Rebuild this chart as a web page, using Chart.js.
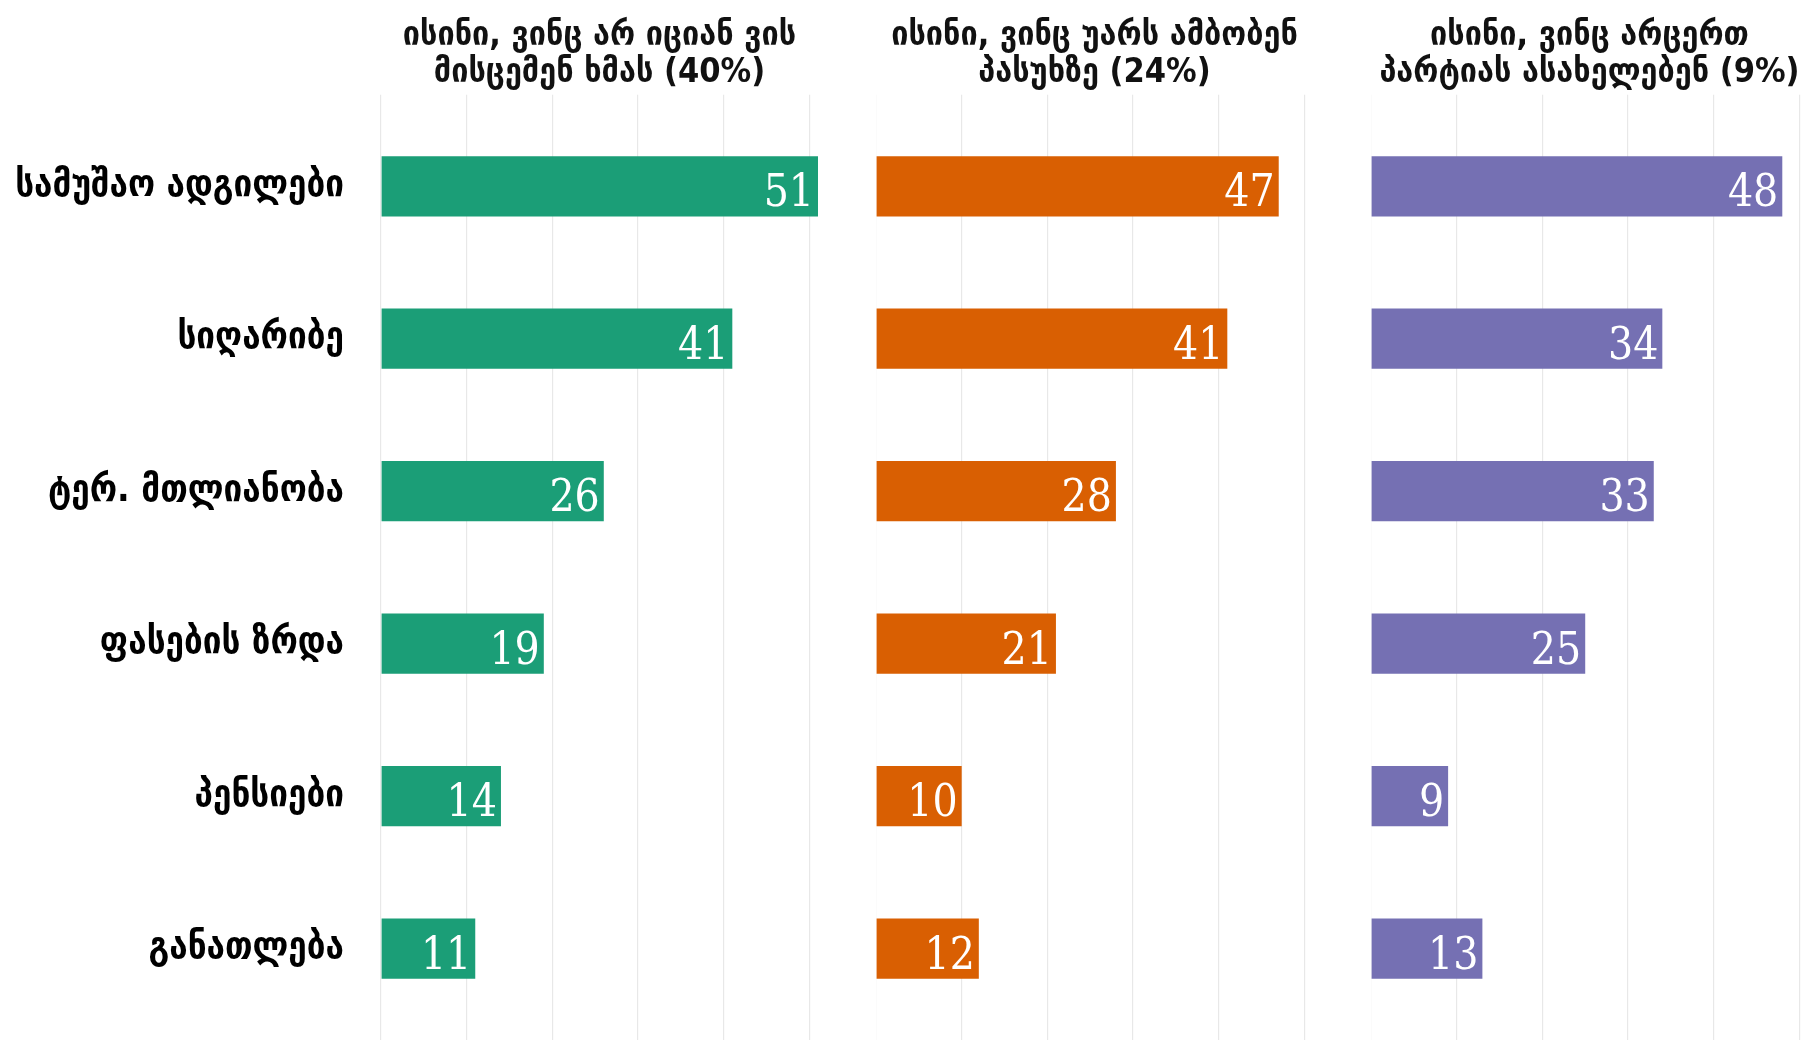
<!DOCTYPE html>
<html>
<head>
<meta charset="utf-8">
<script src="https://cdn.jsdelivr.net/npm/chart.js@4.4.1/dist/chart.umd.min.js"></script>
<style>
  html, body { margin: 0; padding: 0; background: #ffffff; }
  #wrap { position: relative; width: 1808px; height: 1040px; overflow: hidden; }
  canvas { position: absolute; top: 0; }
</style>
</head>
<body>
<div id="wrap">
  <canvas id="c1" width="818" height="1040" style="left:0px"></canvas>
  <canvas id="c2" width="437" height="1040" style="left:876px"></canvas>
  <canvas id="c3" width="437" height="1040" style="left:1371px"></canvas>
</div>
<script>
// Most important issues, by voter group (%)
const categories = ['სამუშაო ადგილები', 'სიღარიბე', 'ტერ. მთლიანობა', 'ფასების ზრდა', 'პენსიები', 'განათლება'];

const undecidedValues = [51, 41, 26, 19, 14, 11];
const refusedValues   = [47, 41, 28, 21, 10, 12];
const noPartyValues   = [48, 34, 33, 25, 9, 13];

const undecidedTitle = ['ისინი, ვინც არ იციან ვის', 'მისცემენ ხმას (40%)'];
const refusedTitle   = ['ისინი, ვინც უარს ამბობენ', 'პასუხზე (24%)'];
const noPartyTitle   = ['ისინი, ვინც არცერთ', 'პარტიას ასახელებენ (9%)'];

const xTicks = [0, 10, 20, 30, 40, 50];

const GEO_FONT = "'DejaVu Sans Condensed', 'DejaVu Sans', sans-serif";
const NUM_FONT = "'DejaVu Serif Condensed', 'DejaVu Serif', serif";

// Writes each bar's value in white, just inside its right end
const valueLabels = {
  id: 'valueLabels',
  afterDatasetsDraw(chart) {
    const ctx = chart.ctx;
    const size = 44;
    ctx.save();
    ctx.font = `${size}px ${NUM_FONT}`;
    ctx.fillStyle = '#ffffff';
    ctx.textAlign = 'right';
    ctx.textBaseline = 'alphabetic';
    chart.data.datasets.forEach((ds, di) => {
      chart.getDatasetMeta(di).data.forEach((bar, i) => {
        const v = ds.data[i].x;
        ctx.fillText(String(v), bar.x - 4, bar.y + size * 0.365 + 4);
      });
    });
    ctx.restore();
  }
};

function makePanel(canvasId, values, color, title, showLabels) {
  const points = values.map((v, i) => ({ x: v, y: i }));
  return new Chart(document.getElementById(canvasId), {
    type: 'bar',
    data: {
      datasets: [{
        data: points,
        backgroundColor: color,
        borderWidth: 0,
        categoryPercentage: 1,
        barPercentage: 0.395
      }]
    },
    options: {
      indexAxis: 'y',
      responsive: false,
      animation: false,
      events: [],
      layout: { padding: 0 },
      plugins: {
        legend: { display: false },
        tooltip: { enabled: false },
        title: {
          display: true,
          fullSize: false,
          align: 'center',
          text: title,
          color: '#111111',
          font: { family: GEO_FONT, weight: 'bold', size: 34, lineHeight: 1.1 },
          padding: { top: 17, bottom: 3 }
        }
      },
      scales: {
        x: {
          type: 'linear',
          position: 'bottom',
          min: 0,
          max: 51,
          afterBuildTicks(scale) { scale.ticks = xTicks.map(v => ({ value: v })); },
          ticks: { display: false },
          border: { display: false },
          grid: { color: '#e8e8e8', lineWidth: 1.2, drawTicks: false }
        },
        y: {
          type: 'linear',
          reverse: true,
          offset: false,
          min: -0.6,
          max: 5.6,
          display: showLabels,
          afterBuildTicks(scale) { scale.ticks = categories.map((c, i) => ({ value: i })); },
          afterFit(scale) {
            if (showLabels) {
              scale.width = 381;
              scale.paddingTop = 0;
              scale.paddingBottom = 0;
            }
          },
          ticks: {
            callback: (v) => categories[v],
            color: '#000000',
            padding: 37,
            font: { family: GEO_FONT, weight: 'bold', size: 37 }
          },
          border: { display: false },
          grid: { display: false, drawTicks: false, offset: false }
        }
      }
    },
    plugins: [valueLabels]
  });
}

makePanel('c1', undecidedValues, '#1b9e77', undecidedTitle, true);
makePanel('c2', refusedValues, '#d95f02', refusedTitle, false);
makePanel('c3', noPartyValues, '#7570b3', noPartyTitle, false);
</script>
</body>
</html>
